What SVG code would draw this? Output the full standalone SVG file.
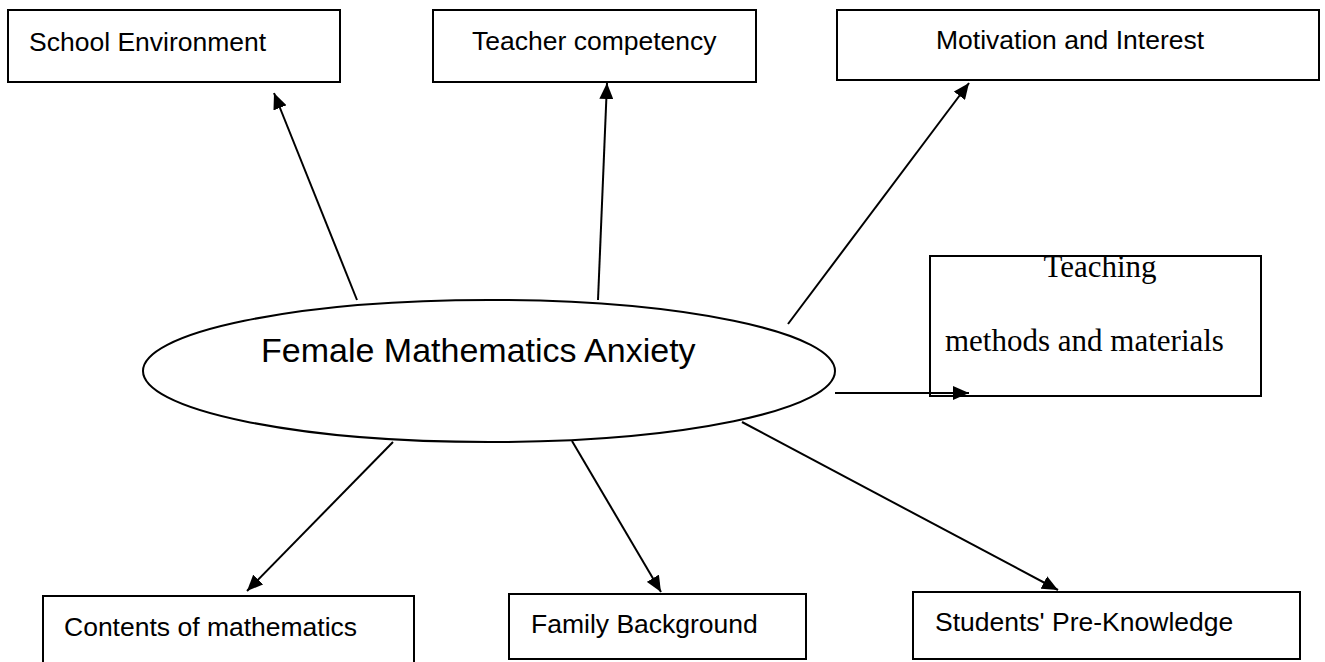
<svg xmlns="http://www.w3.org/2000/svg" width="1325" height="662" viewBox="0 0 1325 662">
<style>
.box{fill:#fff;stroke:#000;stroke-width:2}
.lbl{font-family:"Liberation Sans",Arial,sans-serif;font-size:26.5px;fill:#000}
.serif{font-family:"Liberation Serif","Times New Roman",serif;font-size:31px;fill:#000}
.conn{stroke:#000;stroke-width:2;fill:none;marker-end:url(#ah)}
</style>
<defs>
<marker id="ah" markerUnits="userSpaceOnUse" markerWidth="18" markerHeight="14" refX="16" refY="7" orient="auto">
<path d="M0,0 L16,7 L0,14 Z" fill="#000"/>
</marker>
</defs>
<rect width="1325" height="662" fill="#fff"/>
<g id="school-environment">
<rect class="box" x="8" y="10" width="332" height="72"/>
<text class="lbl" x="29" y="51">School Environment</text>
</g>
<g id="teacher-competency">
<rect class="box" x="433" y="10" width="323" height="72"/>
<text class="lbl" x="472" y="50">Teacher competency</text>
</g>
<g id="motivation-interest">
<rect class="box" x="837" y="10" width="482" height="70"/>
<text class="lbl" x="936" y="49">Motivation and Interest</text>
</g>
<g id="teaching-methods">
<rect class="box" x="930" y="256" width="331" height="140"/>
<text class="serif" x="1100" y="277" text-anchor="middle">Teaching</text>
<text class="serif" x="945" y="351">methods and materials</text>
</g>
<g id="female-math-anxiety">
<ellipse class="box" cx="489" cy="371" rx="346" ry="71"/>
<text class="lbl" x="261" y="362" style="font-size:34px">Female Mathematics Anxiety</text>
</g>
<g id="contents-math">
<rect class="box" x="43" y="596" width="371" height="80"/>
<text class="lbl" x="64" y="636">Contents of mathematics</text>
</g>
<g id="family-background">
<rect class="box" x="509" y="594" width="297" height="65"/>
<text class="lbl" x="531" y="633">Family Background</text>
</g>
<g id="students-preknowledge">
<rect class="box" x="913" y="592" width="387" height="67"/>
<text class="lbl" x="935" y="631">Students' Pre-Knowledge</text>
</g>
<g id="connectors">
<line class="conn" x1="357" y1="300" x2="274" y2="93"/>
<line class="conn" x1="598" y1="300" x2="607" y2="83"/>
<line class="conn" x1="788" y1="324" x2="969" y2="83"/>
<line class="conn" x1="835" y1="393" x2="969" y2="393"/>
<line class="conn" x1="393" y1="442" x2="247" y2="591"/>
<line class="conn" x1="572" y1="441" x2="661" y2="592"/>
<line class="conn" x1="742" y1="422" x2="1058" y2="590"/>
</g>
</svg>
